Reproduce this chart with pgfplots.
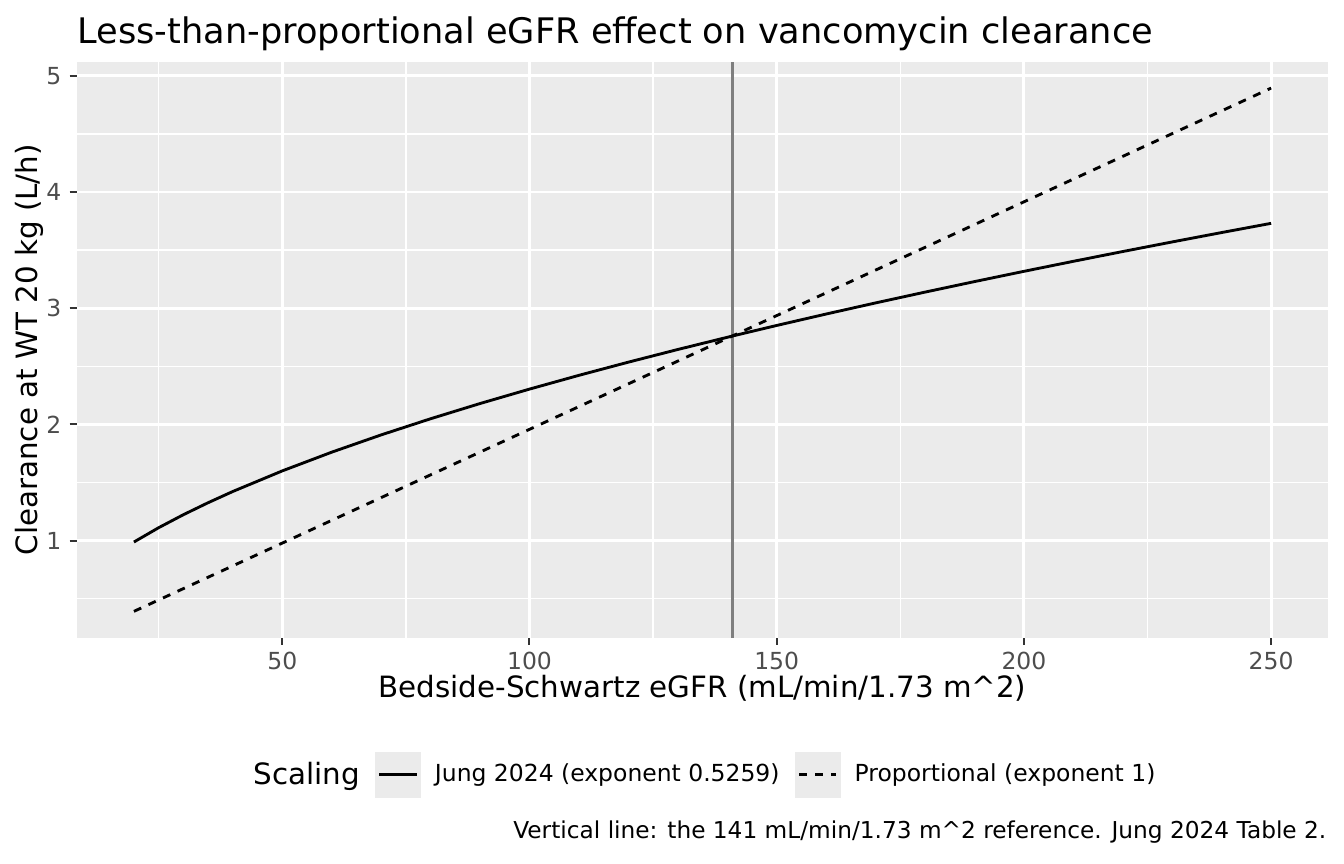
\documentclass[border=0pt]{standalone}
\usepackage{fontspec}
\setmainfont{DejaVu Sans}
\usepackage{pgfplots}
\pgfplotsset{compat=1.18}
\definecolor{ggbg}{HTML}{EBEBEB}
\definecolor{gg30}{HTML}{4D4D4D}
\definecolor{gg20}{HTML}{333333}
\definecolor{gg50}{HTML}{7F7F7F}
\begin{document}
\begin{tikzpicture}
\useasboundingbox (0,0) rectangle (504pt,324pt);
\begin{axis}[
  at={(28.9pt,84.9pt)}, anchor=south west,
  scale only axis, width=469.1pt, height=215.9pt,
  xmin=8.5, xmax=261.5, ymin=0.1658, ymax=5.1193,
  axis background/.style={fill=ggbg},
  axis line style={draw=none},
  xtick={50,100,150,200,250},
  ytick={1,2,3,4,5},
  minor xtick={25,75,125,175,225},
  minor ytick={0.5,1.5,2.5,3.5,4.5},
  xtick pos=bottom, ytick pos=left,
  tick align=outside,
  major tick length=2.75pt, minor tick length=0pt,
  tick style={draw=gg20, line width=0.75pt},
  grid=both,
  major grid style={draw=white, line width=1.07pt},
  minor grid style={draw=white, line width=0.53pt},
  /pgf/number format/assume math mode=true,
  ticklabel style={font=\fontsize{8.8}{10}\selectfont, text=gg30, inner sep=0pt},
  xticklabel style={anchor=north, yshift=-2.5pt},
  yticklabel style={anchor=east, xshift=-3pt},
  title={Less-than-proportional eGFR effect on vancomycin clearance},
  title style={at={(0,1)}, anchor=base west, yshift=1.05pt, inner sep=0pt, font=\fontsize{13.2}{15}\selectfont},
  xlabel={Bedside-Schwartz eGFR (mL/min/1.73 m\textasciicircum 2)},
  xlabel style={at={(0.5,0)}, anchor=base, yshift=-22.3pt, inner sep=0pt, font=\fontsize{11}{13}\selectfont},
  ylabel={Clearance at WT 20 kg (L/h)},
  ylabel style={at={(-0.032,0.5)}, anchor=base, inner sep=0pt, font=\fontsize{11}{13}\selectfont},
  legend columns=3,
  legend style={at={(0.1296,-0.2385)}, anchor=west, draw=none, fill=none, inner sep=0pt,
    font=\fontsize{8.8}{10}\selectfont, nodes={inner sep=0pt},
    /tikz/every odd column/.style={column sep=5.2pt},
    /tikz/every even column/.style={column sep=5.7pt},
    /tikz/column 2/.style={column sep=4.9pt}},
  legend cell align=left,
  legend image code/.code={
    \fill[ggbg, draw=none, solid] (0pt,-8.64pt) rectangle (17.28pt,8.64pt);
    \draw[#1] (1.65pt,0pt) -- (15.63pt,0pt);
  },
]
\addplot[gg50, line width=1.07pt, forget plot] coordinates {(141,0.1658) (141,5.1193)};
\addlegendimage{empty legend}
\addlegendentry{\fontsize{11}{13}\selectfont Scaling}
\addplot[black, line width=1.07pt] coordinates {
(20,0.9881) (25,1.1113) (30,1.2231) (35,1.3263) (40,1.4229) (50,1.6000) (60,1.7610)
(70,1.9097) (80,2.0487) (90,2.1796) (100,2.3037) (110,2.4222) (120,2.5356)
(130,2.6446) (141,2.7600) (150,2.8513) (160,2.9497) (170,3.0453) (180,3.1382)
(190,3.2287) (200,3.3170) (210,3.4032) (220,3.4875) (230,3.5700) (240,3.6508) (250,3.7300)
};
\addlegendentry{Jung 2024 (exponent 0.5259)}
\addplot[black, line width=1.07pt, dash pattern=on 3pt off 3pt] coordinates {
(20,0.3915) (141,2.7600) (250,4.8936)
};
\addlegendentry{Proportional (exponent 1)}
\end{axis}
\node[anchor=base east, inner sep=0pt, font=\fontsize{8.72}{10}\selectfont] at (497.6pt,9.4pt)
  {Vertical line: the 141 mL/min/1.73 m\textasciicircum 2 reference. Jung 2024 Table 2.};
\end{tikzpicture}
\end{document}
